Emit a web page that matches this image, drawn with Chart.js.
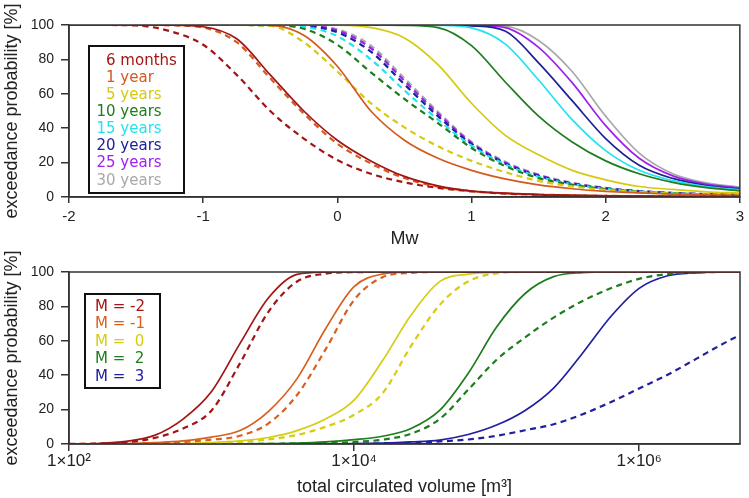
<!DOCTYPE html>
<html>
<head>
<meta charset="utf-8">
<script src="https://cdn.jsdelivr.net/npm/chart.js@4.4.1/dist/chart.umd.min.js"></script>
<style>
  body { margin: 0; background: #fff; }
  #wrap { position: relative; width: 749px; height: 498px; }
  canvas { position: absolute; left: 0; }
  #topChart { top: 0; }
  #bottomChart { top: 250px; }
</style>
</head>
<body>
<div id="wrap">
  <canvas id="topChart" width="749" height="250"></canvas>
  <canvas id="bottomChart" width="749" height="248"></canvas>
</div>
<script>
// ---- top panel: exceedance probability vs Mw ----
const mw = [-2, -1.75, -1.5, -1.25, -1, -0.75, -0.5, -0.25, 0, 0.25, 0.5, 0.75, 1, 1.25, 1.5, 1.75, 2, 2.25, 2.5, 2.75, 3];
const mwTicks = [-2, -1, 0, 1, 2, 3];

const durationLabels = ['6 months', '1 year', '5 years', '10 years', '15 years', '20 years', '25 years', '30 years'];
const durationColors = ['#a31515', '#d55a1e', '#d6c90e', '#1e7d1e', '#22e3ee', '#20209a', '#a020ef', '#a9a9a9'];

const solid6m  = [100, 100, 100, 99.9, 99, 92, 71, 50, 33, 21, 12, 6.5, 3.5, 2.2, 1.4, 1, 0.7, 0.5, 0.35, 0.25, 0.2];
const solid1y  = [100, 100, 100, 100, 100, 100, 99.8, 94, 76, 50, 33, 22.5, 15.5, 10.5, 7, 4.8, 3.3, 2.4, 1.7, 1.3, 1];
const solid5y  = [100, 100, 100, 100, 100, 100, 100, 100, 99.9, 98.5, 92.5, 77, 54.5, 36, 24.5, 15.5, 10, 6.1, 4.4, 3, 2.3];
const solid10y = [100, 100, 100, 100, 100, 100, 100, 100, 100, 100, 99.8, 98.5, 88, 67, 47, 32, 21, 13.5, 8.5, 5.4, 3.6];
const solid15y = [100, 100, 100, 100, 100, 100, 100, 100, 100, 100, 100, 99.8, 98.3, 89, 68, 45, 27, 15.5, 9.5, 6, 4.1];
const solid20y = [100, 100, 100, 100, 100, 100, 100, 100, 100, 100, 100, 100, 99.5, 96.5, 78, 56, 34, 18.5, 10.8, 6.7, 4.6];
const solid25y = [100, 100, 100, 100, 100, 100, 100, 100, 100, 100, 100, 100, 99.8, 98.5, 87, 66.5, 41.5, 22.5, 12.3, 7.5, 5.2];
const solid30y = [100, 100, 100, 100, 100, 100, 100, 100, 100, 100, 100, 100, 99.9, 99.3, 91, 73, 47, 25.5, 13.5, 8.2, 5.8];

const dashed6m  = [100, 100, 99.7, 96.5, 88.5, 71, 50, 34, 21.5, 13.5, 8.5, 5.3, 3.3, 2, 1.3, 0.9, 0.6, 0.4, 0.3, 0.2, 0.15];
const dashed1y  = [100, 100, 100, 99.8, 98.5, 90, 69, 48.5, 31, 19.5, 11, 6, 3.4, 2.1, 1.4, 1, 0.7, 0.5, 0.35, 0.25, 0.2];
const dashed5y  = [100, 100, 100, 100, 100, 100, 99.5, 90, 73, 54.5, 40.5, 29.5, 21, 14.5, 9.3, 6.2, 4.2, 2.9, 2, 1.45, 1.05];
const dashed10y = [100, 100, 100, 100, 100, 100, 99.8, 97.8, 88.5, 72.5, 57, 43, 28.5, 18, 11, 7.1, 4.6, 3.1, 2.1, 1.5, 1.1];
const dashed15y = [100, 100, 100, 100, 100, 100, 99.9, 99, 93.5, 80, 62, 45, 29.8, 19, 11.8, 7.5, 4.8, 3.2, 2.2, 1.6, 1.2];
const dashed20y = [100, 100, 100, 100, 100, 100, 100, 99.5, 95.8, 84.5, 65.5, 47, 30.8, 19.5, 12.3, 7.8, 5, 3.3, 2.3, 1.6, 1.2];
const dashed25y = [100, 100, 100, 100, 100, 100, 100, 99.7, 96.8, 86.5, 67.5, 48.5, 31.5, 20, 12.7, 8, 5.1, 3.4, 2.3, 1.7, 1.3];
const dashed30y = [100, 100, 100, 100, 100, 100, 100, 99.8, 97.5, 88, 69, 49.5, 32, 20.5, 13, 8.3, 5.3, 3.5, 2.4, 1.8, 1.4];

const topSolid = [solid6m, solid1y, solid5y, solid10y, solid15y, solid20y, solid25y, solid30y];
const topDashed = [dashed6m, dashed1y, dashed5y, dashed10y, dashed15y, dashed20y, dashed25y, dashed30y];

// ---- bottom panel: exceedance probability vs circulated volume ----
const volume = [100, 158, 251, 398, 631, 1000, 1585, 2512, 3981, 6310, 10000, 15850, 25120, 39810, 63100,
  100000, 158500, 251200, 398100, 631000, 1000000, 1585000, 2512000, 3981000, 5000000];
const volumeTicks = [100, 10000, 1000000];
const volumeTickLabels = ['1×10²', '1×10⁴', '1×10⁶'];

const magLabels = ['M = -2', 'M = -1', 'M =  0', 'M =  2', 'M =  3'];
const magColors = ['#a31515', '#d95f1e', '#d6cd10', '#1e7d1e', '#2020a0'];

const solidMm2 = [0.05, 0.3, 1.5, 5, 14.5, 30.5, 58.5, 85, 98.6, 99.9, 100, 100, 100, 100, 100, 100, 100, 100, 100, 100, 100, 100, 100, 100, 100];
const solidMm1 = [0, 0.1, 0.3, 0.8, 1.8, 4, 7.8, 19, 38, 67, 91.5, 98.8, 99.9, 100, 100, 100, 100, 100, 100, 100, 100, 100, 100, 100, 100];
const solidM0  = [0, 0, 0.05, 0.1, 0.3, 0.8, 1.8, 3.8, 7.8, 14.5, 25.5, 48.5, 75, 94.4, 98.8, 99.8, 100, 100, 100, 100, 100, 100, 100, 100, 100];
const solidM2  = [0, 0, 0, 0, 0, 0.05, 0.1, 0.2, 0.5, 1.2, 2.5, 4.5, 9, 19.5, 41, 68, 87.5, 97.3, 99.6, 100, 100, 100, 100, 100, 100];
const solidM3  = [0, 0, 0, 0, 0, 0, 0, 0.05, 0.1, 0.15, 0.2, 0.5, 1.2, 2.3, 5.5, 11, 19.5, 32.5, 52.5, 74, 90.5, 97.8, 99.5, 100, 100];

const dashedMm2 = [0.05, 0.2, 1, 3.5, 9, 19.5, 47, 77, 94.5, 99, 99.9, 100, 100, 100, 100, 100, 100, 100, 100, 100, 100, 100, 100, 100, 100];
const dashedMm1 = [0, 0.05, 0.2, 0.5, 1.2, 2.5, 4.8, 12, 28.5, 55, 83.7, 97, 99.5, 100, 100, 100, 100, 100, 100, 100, 100, 100, 100, 100, 100];
const dashedM0  = [0, 0, 0, 0.05, 0.2, 0.5, 1.2, 2.7, 5.3, 10, 17, 29.5, 57, 80.8, 94.5, 99.2, 100, 100, 100, 100, 100, 100, 100, 100, 100];
const dashedM2  = [0, 0, 0, 0, 0, 0, 0.05, 0.1, 0.3, 0.6, 1.2, 2.5, 6, 14.5, 31.5, 49, 62, 73.5, 83, 90.5, 96, 98.8, 99.7, 100, 100];
const dashedM3  = [0, 0, 0, 0, 0, 0, 0, 0, 0.05, 0.1, 0.2, 0.3, 0.8, 1.5, 2.6, 4.8, 8, 11.5, 17.2, 24.3, 32.3, 40.3, 49.5, 58.8, 63];

const bottomSolid = [solidMm2, solidMm1, solidM0, solidM2, solidM3];
const bottomDashed = [dashedMm2, dashedMm1, dashedM0, dashedM2, dashedM3];

// ---- shared bits ----
const axisFont = 'Liberation Sans';
const inkColor = '#222';

// plot frame + boxed legend with coloured text
const frameLegend = {
  id: 'frameLegend',
  afterDatasetsDraw(chart, args, opts) {
    const { ctx, chartArea: a } = chart;
    ctx.save();
    ctx.strokeStyle = '#333';
    ctx.lineWidth = 1.5;
    ctx.strokeRect(a.left, a.top, a.right - a.left, a.bottom - a.top);

    ctx.lineWidth = 2;
    ctx.strokeStyle = '#111';
    ctx.fillStyle = '#fff';
    ctx.fillRect(opts.x, opts.y, opts.w, opts.h);
    ctx.strokeRect(opts.x, opts.y, opts.w, opts.h);
    ctx.font = '15px "DejaVu Sans"';
    ctx.textBaseline = 'middle';
    ctx.textAlign = 'left';
    const digit = ctx.measureText('0').width;
    opts.labels.forEach((t, i) => {
      ctx.fillStyle = opts.colors[i];
      const shift = /^\d\s/.test(t) ? digit : 0;
      ctx.fillText(t, opts.textX + shift, opts.firstY + i * opts.step);
    });
    ctx.restore();
  }
};

function yScale() {
  return {
    min: 0, max: 100,
    ticks: { stepSize: 20, color: inkColor, font: { family: axisFont, size: 14 }, padding: 7 },
    grid: { drawOnChartArea: false, tickLength: 8, color: '#333', lineWidth: 1.5 },
    border: { color: '#333', width: 1.5 },
    title: { display: true, text: 'exceedance probability [%]', color: inkColor,
      font: { family: axisFont, size: 18 }, padding: { top: 1, bottom: 0 } },
    afterFit: s => { s.width = 69; }
  };
}

function lineSets(xs, solids, dashes, colors) {
  const sets = [];
  solids.forEach((arr, k) => {
    sets.push({
      data: xs.map((x, i) => ({ x, y: arr[i] })),
      borderColor: colors[k], borderWidth: 1.7,
      pointRadius: 0, cubicInterpolationMode: 'monotone', fill: false
    });
    sets.push({
      data: xs.map((x, i) => ({ x, y: dashes[k][i] })),
      borderColor: colors[k], borderWidth: 2.2, borderDash: [6, 4.5],
      pointRadius: 0, cubicInterpolationMode: 'monotone', fill: false
    });
  });
  return sets;
}

new Chart(document.getElementById('topChart'), {
  type: 'line',
  data: { datasets: lineSets(mw, topSolid, topDashed, durationColors) },
  plugins: [frameLegend],
  options: {
    responsive: false,
    animation: false,
    layout: { padding: { top: 25, right: 9, left: 0, bottom: 0 } },
    plugins: {
      legend: { display: false },
      tooltip: { enabled: false },
      frameLegend: { x: 89, y: 46, w: 95, h: 147, textX: 96.5, firstY: 61, step: 17.1,
        labels: durationLabels, colors: durationColors }
    },
    scales: {
      x: {
        type: 'linear', min: -2, max: 3,
        afterBuildTicks: s => { s.ticks = mwTicks.map(v => ({ value: v })); },
        ticks: { color: inkColor, font: { family: axisFont, size: 15 }, padding: 5 },
        grid: { drawOnChartArea: false, tickLength: 6, color: '#333', lineWidth: 1.5 },
        border: { color: '#333', width: 1.5 },
        title: { display: true, text: 'Mw', color: inkColor, font: { family: axisFont, size: 18 },
          padding: { top: 0, bottom: 0 } },
        afterFit: s => { s.height = 53; }
      },
      y: yScale()
    }
  }
});

new Chart(document.getElementById('bottomChart'), {
  type: 'line',
  data: { datasets: lineSets(volume, bottomSolid, bottomDashed, magColors) },
  plugins: [frameLegend],
  options: {
    responsive: false,
    animation: false,
    layout: { padding: { top: 22, right: 9, left: 0, bottom: 0 } },
    plugins: {
      legend: { display: false },
      tooltip: { enabled: false },
      frameLegend: { x: 85, y: 44, w: 75, h: 94, textX: 95, firstY: 57, step: 17.5,
        labels: magLabels, colors: magColors }
    },
    scales: {
      x: {
        type: 'logarithmic', min: 100, max: 5.1e6,
        afterBuildTicks: s => { s.ticks = volumeTicks.map(v => ({ value: v })); },
        ticks: { color: inkColor, font: { family: axisFont, size: 17 }, padding: 0,
          callback: (v, i) => volumeTickLabels[i] },
        grid: { drawOnChartArea: false, tickLength: 7, color: '#333', lineWidth: 1.5 },
        border: { color: '#333', width: 1.5 },
        title: { display: true, text: 'total circulated volume [m³]', color: inkColor,
          font: { family: axisFont, size: 18 }, padding: { top: 0, bottom: 0 } },
        afterFit: s => { s.height = 54; }
      },
      y: yScale()
    }
  }
});
</script>
</body>
</html>
